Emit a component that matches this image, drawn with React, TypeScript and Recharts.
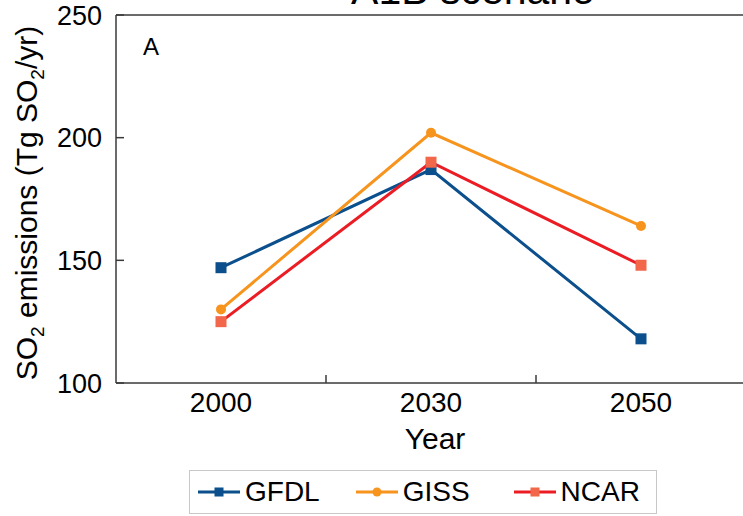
import { LineChart, Line, XAxis, YAxis, ReferenceLine, Legend, Label, Customized } from 'recharts';

const years = ['2000', '2030', '2050'];
const gfdl = [147, 187, 118];
const giss = [130, 202, 164];
const ncar = [125, 190, 148];
const yTicks = [100, 150, 200, 250];

const data = years.map((year, i) => ({ year, GFDL: gfdl[i], GISS: giss[i], NCAR: ncar[i] }));

const SERIES = [
  { key: 'GFDL', line: '#0b4f8c', marker: '#0b4f8c', shape: 'square' },
  { key: 'GISS', line: '#f7941d', marker: '#f7941d', shape: 'circle' },
  { key: 'NCAR', line: '#ec1c24', marker: '#f26649', shape: 'square' },
];

const AXIS = '#3a3a3a';
const legendGaps = [8, 36, 44];

function Marker({ cx, cy, shape, fill, size }: any) {
  if (cx == null || cy == null) return null;
  if (shape === 'circle') return <circle cx={cx} cy={cy} r={size / 2} fill={fill} />;
  return <rect x={cx - size / 2} y={cy - size / 2} width={size} height={size} fill={fill} />;
}

function XTick(props: any) {
  const { x, y, payload, index } = props;
  const axisY = y - 9;
  const half = payload?.offset ?? 105;
  return (
    <g>
      <text x={x} y={y} dy="0.71em" textAnchor="middle" fontSize={28} fill="#000">
        {payload.value}
      </text>
      {index < years.length - 1 && (
        <line x1={x + half} x2={x + half} y1={axisY} y2={axisY - 8} stroke={AXIS} strokeWidth={1.5} />
      )}
    </g>
  );
}

function YLabel({ viewBox }: any) {
  const cy = viewBox.y + viewBox.height / 2 + 4;
  const bx = 37;
  return (
    <text x={bx} y={cy} transform={`rotate(-90 ${bx} ${cy})`} textAnchor="middle" fontSize={30} fill="#000">
      SO<tspan fontSize={19} dy={7}>2</tspan>
      <tspan dy={-7}> emissions (Tg SO</tspan>
      <tspan fontSize={19} dy={7}>2</tspan>
      <tspan dy={-7}>/yr)</tspan>
    </text>
  );
}

function XLabel({ viewBox }: any) {
  return (
    <text x={viewBox.x + viewBox.width / 2 + 4} y={viewBox.y + 66} textAnchor="middle" fontSize={30} fill="#000">
      Year
    </text>
  );
}

function LegendBox() {
  return (
    <div
      style={{
        border: '1.5px solid #c8c8c8',
        height: 44,
        boxSizing: 'border-box',
        display: 'flex',
        alignItems: 'center',
        fontSize: 28,
        color: '#000',
        fontFamily: '"Liberation Sans", Arial, sans-serif',
      }}
    >
      {SERIES.map((s, i) => (
        <div key={s.key} style={{ display: 'flex', alignItems: 'center', marginLeft: legendGaps[i] }}>
          <svg width={42} height={16}>
            <line x1={0} x2={42} y1={8} y2={8} stroke={s.line} strokeWidth={3} />
            <Marker cx={21} cy={8} shape={s.shape} fill={s.marker} size={9} />
          </svg>
          <span style={{ marginLeft: 5, lineHeight: '32px' }}>{s.key}</span>
        </div>
      ))}
    </div>
  );
}

export default function App() {
  return (
    <div
      style={{
        position: 'fixed',
        left: 0,
        top: 0,
        width: 743,
        height: 516,
        overflow: 'hidden',
        background: '#fff',
        fontFamily: '"Liberation Sans", Arial, sans-serif',
      }}
    >
      <div style={{ position: 'absolute', left: 0, top: -32 }}>
        <LineChart width={760} height={548} data={data} margin={{ top: 47, right: 14, left: 26, bottom: 73 }}>
          <XAxis
            dataKey="year"
            scale="band"
            height={60}
            tickLine={false}
            tickSize={0}
            tickMargin={9}
            tick={<XTick />}
            axisLine={{ stroke: AXIS, strokeWidth: 1.5 }}
          >
            <Label content={<XLabel />} />
          </XAxis>
          <YAxis
            type="number"
            domain={[100, 250]}
            ticks={yTicks}
            width={90}
            tickSize={-8}
            tickMargin={22}
            tick={{ fontSize: 27, fill: '#000' }}
            tickLine={{ stroke: AXIS, strokeWidth: 1.5 }}
            axisLine={{ stroke: AXIS, strokeWidth: 1.5 }}
          >
            <Label content={<YLabel />} />
          </YAxis>
          <ReferenceLine y={250} stroke={AXIS} strokeWidth={1.5} />
          {SERIES.map((s) => (
            <Line
              key={s.key}
              type="linear"
              dataKey={s.key}
              stroke={s.line}
              strokeWidth={3}
              isAnimationActive={false}
              activeDot={false}
              dot={(p: any) => <Marker key={`${s.key}-${p.index}`} cx={p.cx} cy={p.cy} shape={s.shape} fill={s.marker} size={s.shape === 'circle' ? 10 : 11} />}
            />
          ))}
          <Legend
            layout="horizontal"
            verticalAlign="middle"
            align="center"
            content={<LegendBox />}
            wrapperStyle={{ top: 502, left: 189, width: 468, height: 44 }}
          />
          <Customized
            component={() => (
              <g>
                <text x={473} y={36} textAnchor="middle" fontSize={41} fill="#000">
                  A1B scenario
                </text>
                <text x={143} y={87} fontSize={24} fill="#000">
                  A
                </text>
              </g>
            )}
          />
        </LineChart>
      </div>
    </div>
  );
}
